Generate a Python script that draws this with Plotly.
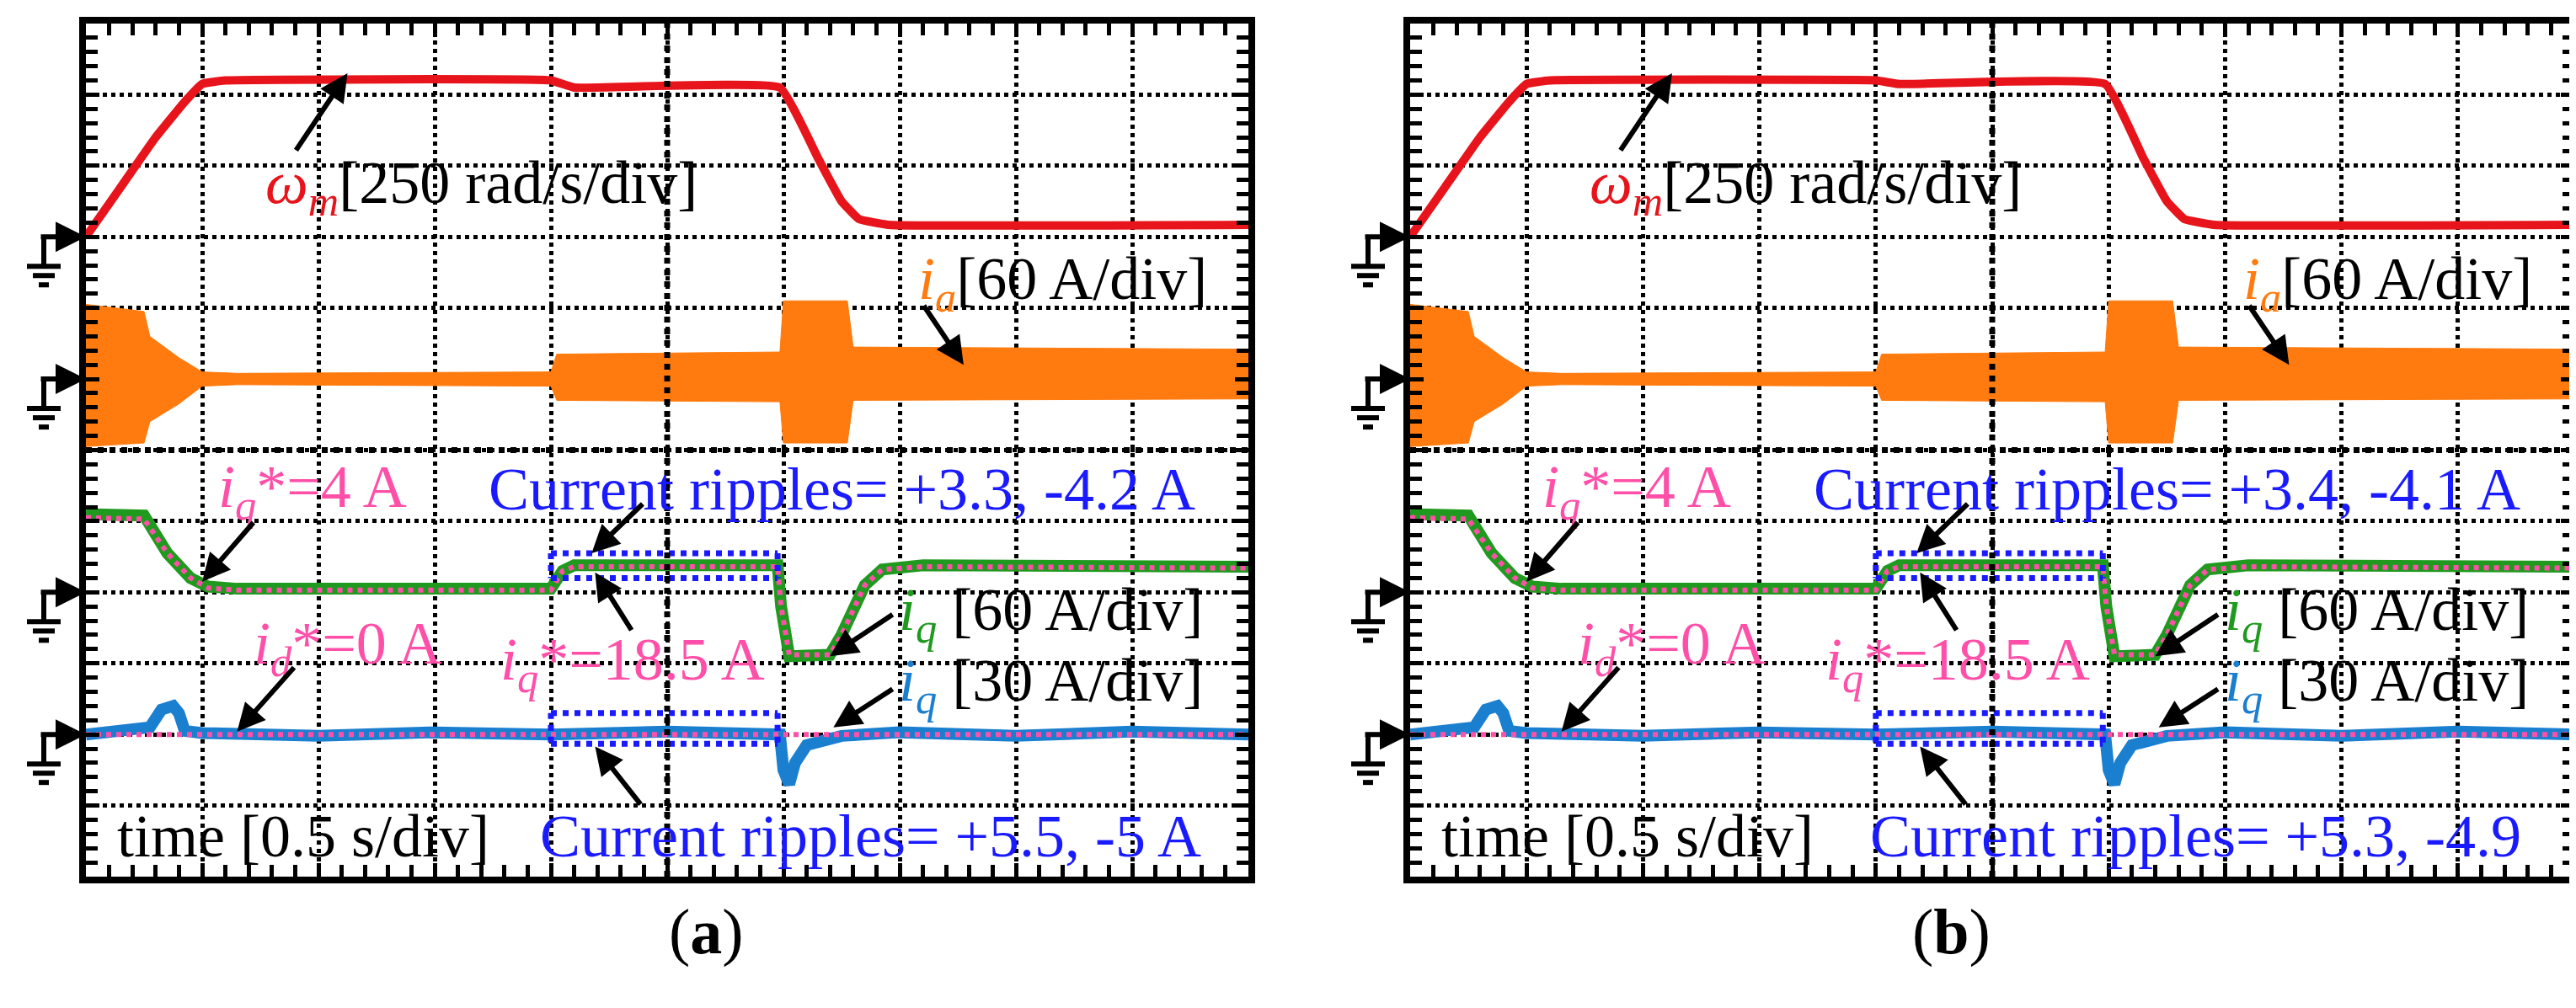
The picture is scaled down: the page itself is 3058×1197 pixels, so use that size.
import plotly.graph_objects as go

# time axis in divisions (0..10), amplitude in divisions (0..12)
wm_t = [0, 0.3, 0.6, 0.85, 1.0, 1.2, 4.0, 4.2, 5.97, 6.3, 6.5, 6.65, 6.9, 10]
wm_a = [9.0, 9.7, 10.4, 10.9, 11.15, 11.2, 11.2, 11.1, 11.1, 10.1, 9.5, 9.25, 9.17, 9.17]
wm_b = [9.0, 9.7, 10.4, 10.9, 11.15, 11.2, 11.2, 11.15, 11.15, 10.1, 9.5, 9.25, 9.17, 9.17]

ia_t = [0, 0.5, 0.55, 0.8, 1.0, 1.3, 4.0, 4.05, 5.97, 6.0, 6.55, 6.6, 10]
ia_up = [8.05, 7.95, 7.6, 7.3, 7.1, 7.08, 7.1, 7.35, 7.38, 8.1, 8.1, 7.45, 7.42]
ia_lo = [6.05, 6.1, 6.4, 6.65, 6.9, 6.92, 6.9, 6.7, 6.68, 6.1, 6.1, 6.7, 6.72]

iq_t = [0, 0.5, 0.7, 0.9, 1.05, 1.3, 4.0, 4.1, 4.2, 5.95, 5.98, 6.05, 6.4, 6.5, 6.7, 6.85, 7.2, 10]
iq_v = [5.1, 5.08, 4.55, 4.2, 4.08, 4.05, 4.05, 4.3, 4.38, 4.38, 3.8, 3.1, 3.12, 3.4, 4.1, 4.32, 4.38, 4.36]
iq_ref = [5.05, 5.03, 4.55, 4.2, 4.06, 4.03, 4.03, 4.3, 4.36, 4.36, 3.8, 3.12, 3.12, 3.4, 4.1, 4.32, 4.36, 4.34]

id_t = [0, 0.3, 0.55, 0.65, 0.75, 0.8, 0.85, 1.0, 2.0, 3.0, 4.0, 5.0, 5.97, 6.0, 6.05, 6.1, 6.2, 6.5, 7.0, 8.0, 9.0, 10]
id_v = [2.0, 2.05, 2.1, 2.35, 2.4, 2.3, 2.05, 2.02, 1.98, 2.03, 2.0, 2.04, 2.0, 1.5, 1.3, 1.6, 1.85, 1.98, 2.03, 1.98, 2.04, 2.0]
id_ref = [2.0] * len(id_t)

box_t = [4.0, 5.95]
box_up = [4.55, 4.2]
box_lo = [2.3, 1.87]

ripples_a = ["Current ripples= +3.3, -4.2 A", "Current ripples= +5.5, -5 A"]
ripples_b = ["Current ripples= +3.4, -4.1 A", "Current ripples= +5.3, -4.9"]
grounds = [9, 7, 4, 2]

SERIF = "Liberation Serif"
W, H = 3058, 1197
fig = go.Figure()
doms = [[94 / W, 1474 / W], [1666 / W, 3048 / W]]
ydom = [1 - 1033 / H, 1 - 20 / H]

for p, (wm, rip, letter) in enumerate([(wm_a, ripples_a, "a"), (wm_b, ripples_b, "b")]):
    xa = "x" if p == 0 else "x2"
    ya = "y" if p == 0 else "y2"
    kw = dict(xaxis=xa, yaxis=ya, showlegend=False, hoverinfo="skip")
    fig.add_trace(go.Scatter(x=wm_t, y=wm, mode="lines", line=dict(color="#e8141c", width=10, shape="spline", smoothing=0.3), **kw))
    fig.add_trace(go.Scatter(x=ia_t, y=ia_lo, mode="lines", line=dict(color="#ff7b0f", width=1), **kw))
    fig.add_trace(go.Scatter(x=ia_t, y=ia_up, mode="lines", line=dict(color="#ff7b0f", width=1), fill="tonexty", fillcolor="#ff7b0f", **kw))
    fig.add_trace(go.Scatter(x=iq_t, y=iq_v, mode="lines", line=dict(color="#1f9a1f", width=14), **kw))
    fig.add_trace(go.Scatter(x=iq_t, y=iq_ref, mode="lines", line=dict(color="#ff4fa8", width=6, dash="dot"), **kw))
    fig.add_trace(go.Scatter(x=id_t, y=id_v, mode="lines", line=dict(color="#1b7fd0", width=14), **kw))
    fig.add_trace(go.Scatter(x=id_t, y=id_ref, mode="lines", line=dict(color="#ff4fa8", width=6, dash="dot"), **kw))
    for lvl in box_up + box_lo:
        fig.add_trace(go.Scatter(x=box_t, y=[lvl, lvl], mode="lines", line=dict(color="#1a1aff", width=7, dash="dot"), **kw))
    for xv in box_t:
        for pair in (box_up, box_lo):
            fig.add_trace(go.Scatter(x=[xv, xv], y=pair, mode="lines", line=dict(color="#1a1aff", width=7, dash="dot"), **kw))

    ax_common = dict(range=[0, 10], dtick=1, showgrid=True, griddash="dot", gridcolor="black", gridwidth=5,
                     zeroline=False, showline=True, linecolor="black", linewidth=8, mirror="ticks",
                     ticks="inside", ticklen=16, tickwidth=5, tickcolor="black", showticklabels=False,
                     minor=dict(ticks="inside", dtick=0.2, ticklen=14, tickwidth=5, tickcolor="black"))
    fig.layout["xaxis" + ("" if p == 0 else "2")] = dict(ax_common, domain=doms[p], anchor=ya)
    fig.layout["yaxis" + ("" if p == 0 else "2")] = dict(ax_common, range=[0, 12], domain=ydom, anchor=xa)

    # centre lines
    fig.add_shape(type="line", xref=xa, yref=ya, x0=5, x1=5, y0=0, y1=12, line=dict(color="black", width=7, dash="dot"))
    fig.add_shape(type="line", xref=xa, yref=ya, x0=0, x1=10, y0=6, y1=6, line=dict(color="black", width=7, dash="dot"))

    def txt(x, y, s, color="black", size=72):
        fig.add_annotation(x=x, y=y, xref=xa, yref=ya, text=s, showarrow=False,
                           font=dict(family=SERIF, size=size, color=color))

    def arrow(x0, y0, x1, y1):
        fig.add_annotation(x=x1, y=y1, ax=x0, ay=y0, xref=xa, yref=ya, axref=xa, ayref=ya, text="",
                           showarrow=True, arrowhead=2, arrowsize=1.1, arrowwidth=6, arrowcolor="black")

    txt(3.4, 9.7, '<span style="color:#e8141c"><i>ω<sub>m</sub></i></span>[250 rad/s/div]')
    arrow(1.8, 10.2, 2.25, 11.3)
    txt(8.4, 8.35, '<span style="color:#ff7b0f"><i>i<sub>a</sub></i></span>[60 A/div]')
    arrow(7.2, 8.05, 7.55, 7.2)
    txt(1.95, 5.43, '<i>i<sub>q</sub></i>*=4 A', "#ff4fa8")
    arrow(1.45, 5.0, 1.0, 4.15)
    txt(6.5, 5.45, rip[0], "#1a1aff")
    arrow(4.8, 5.26, 4.35, 4.55)
    txt(4.7, 3.0, '<i>i<sub>q</sub></i>*=18.5 A', "#ff4fa8")
    arrow(4.7, 3.45, 4.38, 4.28)
    txt(8.3, 3.7, '<span style="color:#1f9a1f"><i>i<sub>q</sub></i></span> [60 A/div]')
    arrow(6.95, 3.7, 6.4, 3.1)
    txt(2.25, 3.22, '<i>i<sub>d</sub></i>*=0 A', "#ff4fa8")
    arrow(1.8, 2.96, 1.3, 2.04)
    txt(8.3, 2.7, '<span style="color:#1b7fd0"><i>i<sub>q</sub></i></span> [30 A/div]')
    arrow(6.95, 2.65, 6.43, 2.1)
    arrow(4.78, 1.0, 4.38, 1.83)
    txt(1.87, 0.57, "time [0.5 s/div]")
    txt(6.75, 0.57, rip[1], "#1a1aff")

    # ground markers: arrow into the frame plus earth symbol (paper coords)
    x_edge = doms[p][0]
    px = 1 / W
    for g in grounds:
        yp = ydom[0] + g / 12 * (ydom[1] - ydom[0])
        fig.add_annotation(x=x_edge, y=yp, xref="paper", yref="paper", ax=-55, ay=0, text="",
                           showarrow=True, arrowhead=2, arrowsize=1.2, arrowwidth=6, arrowcolor="black")
        xs = x_edge - 50 * px
        ln = dict(color="black", width=6)
        fig.add_shape(type="line", xref="paper", yref="paper", x0=xs, x1=xs, y0=yp, y1=yp - 35 / H, line=ln)
        for k, hw in enumerate([20, 13, 6]):
            yy = yp - (35 + 11 * k) / H
            fig.add_shape(type="line", xref="paper", yref="paper", x0=xs - hw * px, x1=xs + hw * px,
                          y0=yy, y1=yy, line=ln)

    fig.add_annotation(x=(doms[p][0] + doms[p][1]) / 2, y=0.045, xref="paper", yref="paper",
                       text="(<b>%s</b>)" % letter, showarrow=False,
                       font=dict(family=SERIF, size=76, color="black"))

fig.update_layout(width=W, height=H, margin=dict(l=0, r=0, t=0, b=0),
                  paper_bgcolor="white", plot_bgcolor="white")
fig.write_html("out.html")
